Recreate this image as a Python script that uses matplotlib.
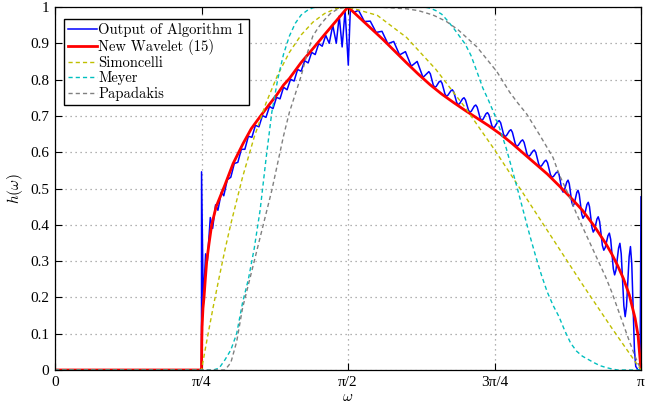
import numpy as np
import matplotlib
matplotlib.use("Agg")
import matplotlib.pyplot as plt
from matplotlib.font_manager import FontProperties

plt.rcParams['mathtext.fontset'] = 'cm'
plt.rcParams['font.family'] = ['Liberation Serif', 'DejaVu Serif']

# frequencies are given in units of pi
red_w = [0, 0.25, 0.2505, 0.251, 0.2525, 0.2543, 0.2565, 0.2589, 0.263, 0.2674, 0.275, 0.29,
         0.304, 0.321, 0.335, 0.35, 0.365, 0.378, 0.39, 0.40, 0.42, 0.44, 0.46, 0.48, 0.50,
         0.52, 0.54, 0.56, 0.58, 0.60, 0.62, 0.64, 0.66, 0.68, 0.70, 0.72, 0.74, 0.76, 0.78,
         0.80, 0.82, 0.84, 0.86, 0.88, 0.90, 0.92, 0.94, 0.95, 0.96, 0.97, 0.98, 0.99, 0.995, 1.0]
red_h = [0, 0, 0.08, 0.12, 0.17, 0.2, 0.25, 0.30, 0.35, 0.40, 0.45, 0.51,
         0.569, 0.624, 0.665, 0.698, 0.73, 0.757, 0.785, 0.803, 0.847, 0.885, 0.924, 0.962, 1.0,
         0.970, 0.940, 0.910, 0.878, 0.846, 0.815, 0.786, 0.760, 0.737, 0.715, 0.694, 0.673, 0.650, 0.624,
         0.596, 0.568, 0.540, 0.508, 0.475, 0.440, 0.397, 0.348, 0.320, 0.288, 0.252, 0.207, 0.142, 0.095, 0.0]

blue_w = [0, 0.2500, 0.2501, 0.2530, 0.2570, 0.2600, 0.2650, 0.2690, 0.2740, 0.2780, 0.2840, 0.2880,
          0.294, 0.300, 0.306, 0.312, 0.318, 0.324, 0.330, 0.336, 0.342, 0.348, 0.354,
          0.360, 0.366, 0.372, 0.378, 0.384, 0.390, 0.396, 0.402, 0.408, 0.414, 0.420,
          0.426, 0.432, 0.438, 0.444, 0.450, 0.456, 0.462, 0.468, 0.474, 0.480, 0.485,
          0.490, 0.495, 0.5005, 0.504, 0.510,
          0.518, 0.528, 0.538, 0.548, 0.558, 0.568, 0.578, 0.588, 0.598, 0.608, 0.618, 0.628,
          0.638, 0.6405, 0.6455, 0.648, 0.6505, 0.6555, 0.658, 0.6605, 0.6655, 0.668, 0.6705, 0.6755,
          0.678, 0.6805, 0.6855, 0.688, 0.6905, 0.6955, 0.698, 0.7005, 0.7055, 0.708, 0.7105, 0.7155,
          0.718, 0.7205, 0.7255, 0.728, 0.7305, 0.7355, 0.738, 0.7405, 0.7455, 0.748, 0.7505, 0.7555,
          0.758, 0.7605, 0.7655, 0.768, 0.7705, 0.7755, 0.778, 0.7805, 0.7855, 0.788, 0.7905, 0.7955,
          0.798, 0.8005, 0.8055, 0.808, 0.8105, 0.8155, 0.818, 0.8205, 0.8255, 0.828, 0.8305, 0.8355,
          0.838, 0.8405, 0.8455, 0.848, 0.8505, 0.8555, 0.858, 0.86025, 0.86475, 0.867, 0.8691, 0.8734,
          0.8755, 0.8776, 0.8819, 0.884, 0.8861, 0.8904, 0.8925, 0.8946, 0.8989, 0.901, 0.90325, 0.90775,
          0.910, 0.9121, 0.9164, 0.9185, 0.9206, 0.9249, 0.927, 0.9294, 0.9341, 0.9365, 0.9389, 0.9436,
          0.946, 0.94825, 0.95275, 0.955, 0.95725, 0.96175, 0.964, 0.96625, 0.97075, 0.973, 0.97525, 0.97975,
          0.982, 0.98425, 0.98875, 0.991, 0.995, 0.9985, 1.0]
blue_h = [0, 0, 0.546, 0.180, 0.320, 0.300, 0.420, 0.390, 0.455, 0.440, 0.490, 0.480,
          0.524, 0.531, 0.569, 0.572, 0.608, 0.608, 0.644, 0.641, 0.674, 0.670, 0.701,
          0.696, 0.726, 0.720, 0.751, 0.747, 0.779, 0.772, 0.801, 0.796, 0.828, 0.823,
          0.852, 0.846, 0.875, 0.869, 0.899, 0.892, 0.922, 0.900, 0.950, 0.900, 0.975,
          0.890, 0.990, 0.840, 0.995, 0.985,
          0.991, 0.960, 0.961, 0.930, 0.933, 0.899, 0.905, 0.868, 0.877, 0.837, 0.850, 0.806,
          0.822, 0.816, 0.785, 0.779, 0.781, 0.794, 0.796, 0.790, 0.760, 0.754, 0.757, 0.769,
          0.772, 0.766, 0.737, 0.731, 0.734, 0.747, 0.750, 0.744, 0.716, 0.710, 0.713, 0.727,
          0.730, 0.724, 0.694, 0.688, 0.691, 0.706, 0.709, 0.703, 0.673, 0.667, 0.670, 0.684,
          0.687, 0.681, 0.649, 0.643, 0.646, 0.659, 0.662, 0.655, 0.623, 0.616, 0.619, 0.631,
          0.634, 0.627, 0.595, 0.588, 0.591, 0.603, 0.606, 0.599, 0.567, 0.560, 0.563, 0.575,
          0.578, 0.571, 0.538, 0.531, 0.533, 0.544, 0.546, 0.538, 0.498, 0.490, 0.495, 0.518,
          0.523, 0.513, 0.462, 0.452, 0.458, 0.489, 0.495, 0.484, 0.429, 0.418, 0.424, 0.456,
          0.462, 0.450, 0.392, 0.380, 0.386, 0.416, 0.422, 0.409, 0.343, 0.330, 0.337, 0.370,
          0.377, 0.360, 0.279, 0.262, 0.275, 0.336, 0.349, 0.320, 0.177, 0.147, 0.175, 0.312,
          0.340, 0.292, 0.058, 0.010, 0.0, 0.0, 0.477]

simon_w = [0, 0.25, 0.26, 0.27, 0.28, 0.29, 0.30, 0.32, 0.34, 0.36, 0.38, 0.40, 0.42, 0.44,
           0.46, 0.48, 0.50, 0.55, 0.60, 0.65, 0.70, 0.75, 0.80, 0.85, 0.90, 0.95, 1.0]
simon_h = [0, 0, 0.089, 0.174, 0.254, 0.331, 0.402, 0.531, 0.642, 0.735, 0.813, 0.875, 0.923, 0.958,
           0.982, 0.996, 1.0, 0.977, 0.916, 0.828, 0.723, 0.607, 0.484, 0.360, 0.236, 0.116, 0.0]

meyer_w = [0, 0.27, 0.28, 0.29, 0.30, 0.31, 0.32, 0.33, 0.34, 0.35, 0.36, 0.37, 0.38, 0.39, 0.40,
           0.41, 0.42, 0.43, 0.44, 0.45, 0.63, 0.64, 0.65, 0.66, 0.67, 0.68, 0.69, 0.70, 0.71, 0.72,
           0.73, 0.74, 0.75, 0.76, 0.77, 0.78, 0.79, 0.80, 0.81, 0.82, 0.83, 0.84, 0.85, 0.86, 0.87,
           0.88, 0.89, 0.90, 0.91, 0.92, 0.93, 0.94, 0.95, 0.96, 1.0]
meyer_h = [0, 0, 0.005, 0.028, 0.055, 0.10, 0.185, 0.25, 0.335, 0.44, 0.58, 0.71, 0.80, 0.87, 0.92,
           0.955, 0.978, 0.99, 0.998, 1.0, 1.0, 0.997, 0.99, 0.98, 0.962, 0.942, 0.92, 0.898, 0.866, 0.822,
           0.777, 0.742, 0.704, 0.66, 0.611, 0.553, 0.494, 0.433, 0.372, 0.315, 0.262, 0.215, 0.178, 0.147, 0.108,
           0.074, 0.052, 0.038, 0.029, 0.02, 0.012, 0.007, 0.003, 0.0, 0.0]

pap_w = [0, 0.29, 0.30, 0.31, 0.32, 0.33, 0.34, 0.35, 0.36, 0.37, 0.38, 0.39, 0.40, 0.41, 0.42,
         0.43, 0.44, 0.45, 0.46, 0.47, 0.48, 0.49, 0.50, 0.55, 0.60, 0.62, 0.645, 0.668, 0.688,
         0.72, 0.754, 0.776, 0.79, 0.805, 0.828, 0.85, 0.86, 0.87, 0.88, 0.89, 0.90, 0.91, 0.92,
         0.93, 0.94, 0.95, 0.96, 0.97, 0.98, 0.99, 1.0]
pap_h = [0, 0, 0.02, 0.078, 0.17, 0.235, 0.30, 0.365, 0.43, 0.495, 0.57, 0.645, 0.71, 0.76, 0.81,
         0.87, 0.92, 0.945, 0.965, 0.982, 0.992, 0.998, 1.0, 1.0, 0.995, 0.99, 0.978, 0.96, 0.937,
         0.89, 0.822, 0.765, 0.735, 0.705, 0.645, 0.585, 0.54, 0.505, 0.47, 0.43, 0.395, 0.36, 0.325,
         0.29, 0.255, 0.215, 0.17, 0.125, 0.08, 0.037, 0.0]

labels = ['Output of Algorithm 1', 'New Wavelet (15)', 'Simoncelli', 'Meyer', 'Papadakis']
xtick_vals = [0, 0.25, 0.5, 0.75, 1.0]
xtick_labels = ['0', 'π/4', 'π/2', '3π/4', 'π']
ytick_vals = [0, 0.1, 0.2, 0.3, 0.4, 0.5, 0.6, 0.7, 0.8, 0.9, 1.0]
ytick_labels = ['0', '0.1', '0.2', '0.3', '0.4', '0.5', '0.6', '0.7', '0.8', '0.9', '1']

fig = plt.figure(figsize=(6.54, 4.04), dpi=100)
ax = fig.add_axes([55/654, 34/404, 586/654, 363/404])

pi = np.pi

ax.plot(np.array(blue_w)*pi, blue_h, color='#0000ff', lw=1.1, label=labels[0])
ax.plot(np.array(red_w)*pi, red_h, color='#ff0000', lw=2.0, label=labels[1])
ax.plot(np.array(simon_w)*pi, simon_h, color=(0.75, 0.75, 0.0), lw=1.0, dashes=(3, 2.2),
        label=labels[2])
ax.plot(np.array(meyer_w)*pi, meyer_h, color=(0.0, 0.75, 0.75), lw=1.0, dashes=(3, 2.2),
        label=labels[3])
ax.plot(np.array(pap_w)*pi, pap_h, color=(0.5, 0.5, 0.5), lw=1.0, dashes=(3, 2.2),
        label=labels[4])

ax.set_xlim(0, pi)
ax.set_ylim(0, 1)
ax.set_xticks(np.array(xtick_vals)*pi)
ax.set_xticklabels(xtick_labels)
ax.set_yticks(ytick_vals)
ax.set_yticklabels(ytick_labels)
ax.tick_params(direction='in', length=5, width=0.8, top=True, right=True, labelsize=11, pad=4)
ax.grid(True, linestyle=(0, (1, 3)), color=(0.6, 0.6, 0.6), lw=0.9)
for s in ax.spines.values():
    s.set_linewidth(0.9)

ax.set_xlabel(r'$\omega$', fontsize=11, labelpad=2)
ax.set_ylabel(r'$h(\omega)$', fontsize=11, labelpad=4)

legfont = FontProperties(family='cmr10', size=10.5)
leg = ax.legend(loc='upper left', bbox_to_anchor=(0.0155, 0.967), prop=legfont, frameon=True,
                fancybox=False, edgecolor='black', framealpha=1, handlelength=1.95,
                handletextpad=0.1, labelspacing=0.1, borderpad=0.3, borderaxespad=0)
leg.get_frame().set_linewidth(1.0)

fig.savefig('out.png', dpi=100)
